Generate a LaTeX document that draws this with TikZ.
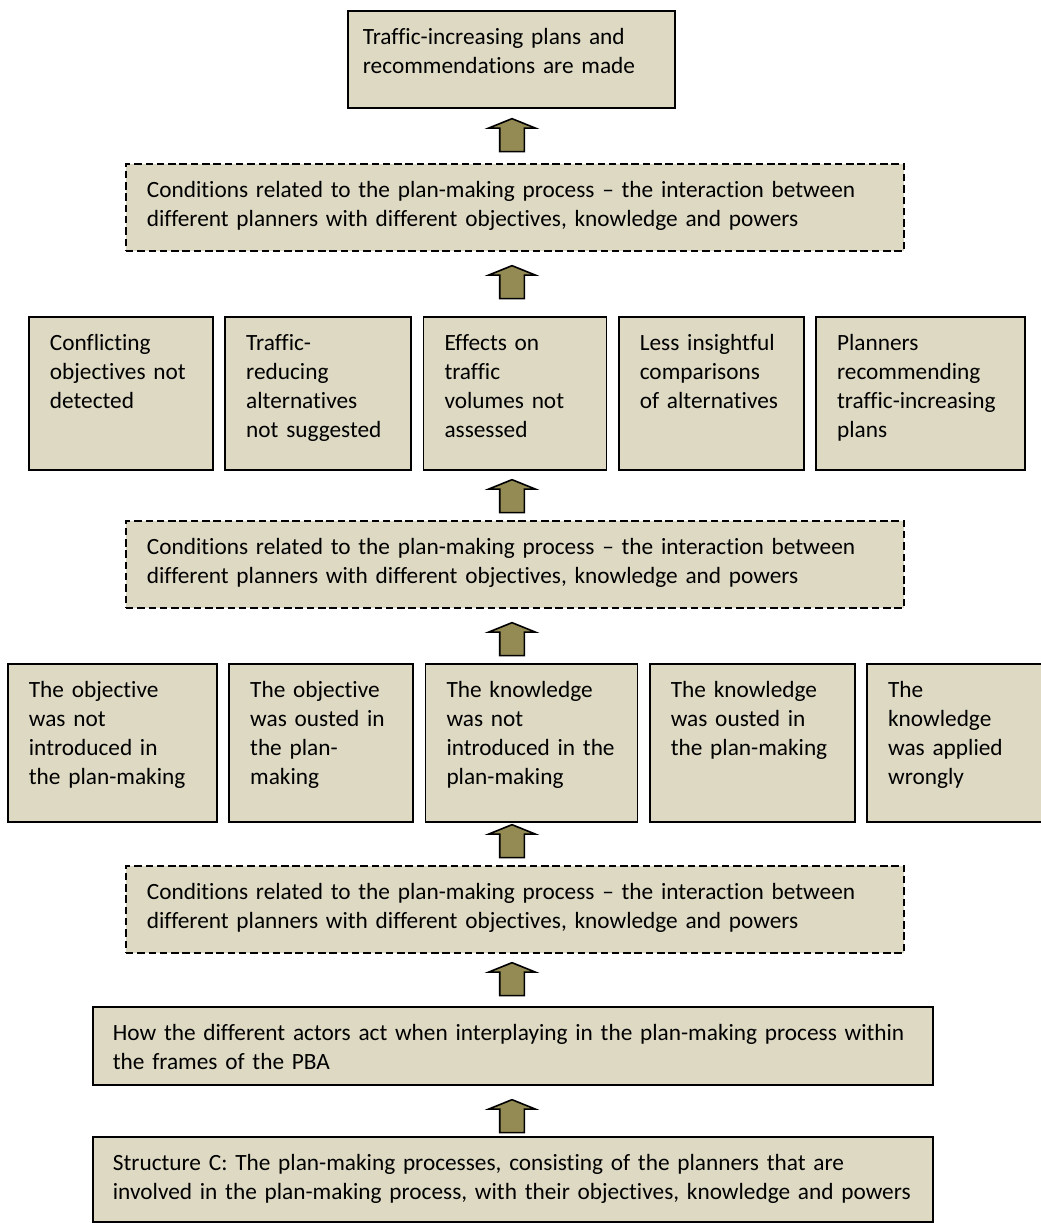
\documentclass[tikz,border=0pt]{standalone}
\usepackage{fontspec}
\setmainfont{Carlito}[Ligatures={NoCommon}]
\usetikzlibrary{shapes.arrows,positioning}
\definecolor{tanFill}   {HTML}{DDD9C3}
\definecolor{oliveArrow}{HTML}{948A54}
\hyphenpenalty=10000

\begin{document}
\begin{tikzpicture}[x=1pt, y=-1pt,
      font=\fontsize{23.3pt}{28.7pt}\selectfont,
      box/.style={draw=black, line width=1.8pt, fill=tanFill, anchor=north west,
                  align=left, inner xsep=21pt, inner ysep=0pt, text height=34pt},
      cond/.style={box, dash pattern=on 7.5pt off 3.8pt, text width=736pt, text depth=53pt},
      effect/.style={box, text width=#1, text depth=119pt},
      lack/.style={box, text width=#1, text depth=124pt},
      lift/.style={single arrow, shape border rotate=90, draw=black, line width=1.6pt,
                   fill=oliveArrow, minimum height=33pt, inner sep=11.5pt,
                   single arrow head extend=11pt, single arrow tip angle=136,
                   anchor=tip}]

    \useasboundingbox (0,0) rectangle (1041,1223);
    \coordinate (ax) at (512,0);

    \node[box, inner xsep=15pt, text width=297pt, text depth=63pt] (top) at (347,10)
      {Traffic-increasing plans and\\recommendations are made};

    \node[cond] (cond1) at (125,163)
      {Conditions related to the plan-making process – the interaction between\\
       different planners with different objectives, knowledge and powers};

    \node[effect=142pt] (f1) at (28,316) {Conflicting\\objectives not\\detected};
    \node[effect=144pt, right=10.5pt of f1] (f2) {Traffic-\\reducing\\alternatives\\not suggested};
    \node[effect=141pt, right=10.5pt of f2] (f3) {Effects on\\traffic\\volumes not\\assessed};
    \node[effect=143pt, right=10.5pt of f3] (f4) {Less insightful\\comparisons\\of alternatives};
    \node[effect=167pt, right=10.5pt of f4] (f5) {Planners\\recommending\\traffic-increasing\\plans};

    \node[cond] (cond2) at (125,520)
      {Conditions related to the plan-making process – the interaction between\\
       different planners with different objectives, knowledge and powers};

    \node[lack=167pt] (g1) at (7,663) {The objective\\was not\\introduced in\\the plan-making};
    \node[lack=142pt, right=10.5pt of g1] (g2) {The objective\\was ousted in\\the plan-\\making};
    \node[lack=170pt, right=10.5pt of g2] (g3) {The knowledge\\was not\\introduced in the\\plan-making};
    \node[lack=163pt, right=10.5pt of g3] (g4) {The knowledge\\was ousted in\\the plan-making};
    \node[lack=139pt, right=10.5pt of g4] (g5) {The\\knowledge\\was applied\\wrongly};

    \node[cond] (cond3) at (125,865)
      {Conditions related to the plan-making process – the interaction between\\
       different planners with different objectives, knowledge and powers};

    \node[box, inner xsep=20pt, text width=800pt, text depth=44pt] (act) at (92,1006)
      {How the different actors act when interplaying in the plan-making process within\\
       the frames of the PBA};

    \node[box, inner xsep=20pt, text width=800pt, text depth=51pt] (struc) at (92,1136)
      {Structure C: The plan-making processes, consisting of the planners that are\\
       involved in the plan-making process, with their objectives, knowledge and powers};

    % block arrows, tip just under the box above
    \node[lift, yshift=-9pt]  (a1) at (top.south -| ax) {};
    \node[lift, yshift=-13pt] (a2) at (cond1.south -| ax) {};
    \node[lift, yshift=-8pt]  (a3) at (f3.south -| ax) {};
    \node[lift, yshift=-13pt] (a4) at (cond2.south -| ax) {};
    \node[lift, yshift=-1pt]  (a5) at (g3.south -| ax) {};
    \node[lift, yshift=-8pt]  (a6) at (cond3.south -| ax) {};
    \node[lift, yshift=-13pt] (a7) at (act.south -| ax) {};
  \end{tikzpicture}
\end{document}
